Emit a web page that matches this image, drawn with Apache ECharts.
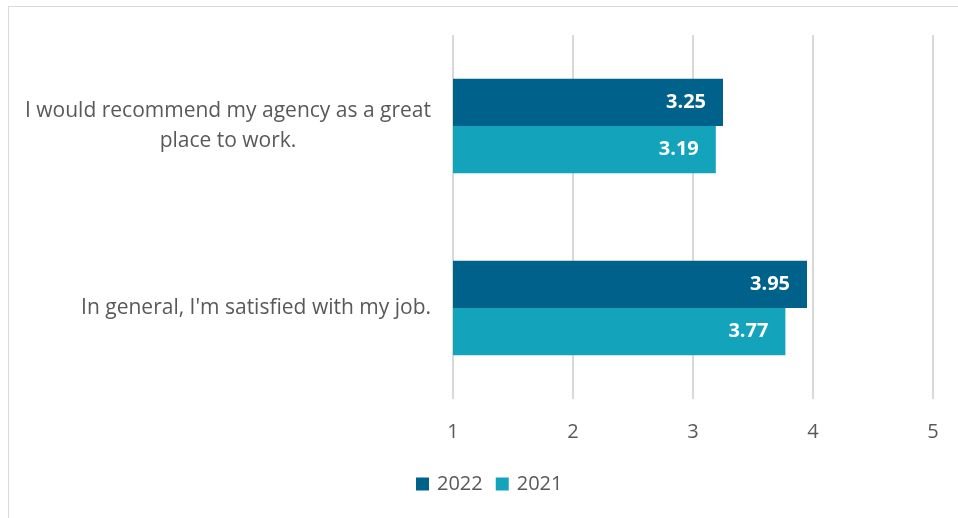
<!DOCTYPE html>
<html>
<head>
<meta charset="utf-8">
<script src="https://cdn.jsdelivr.net/npm/echarts@6/dist/echarts.min.js"></script>
<style>
  html, body { margin: 0; padding: 0; background: #ffffff; }
  #chart { width: 958px; height: 518px; position: relative; }
  #frame { position: absolute; left: 8px; top: 6px; width: 1000px; height: 600px;
           border: 1px solid #d9d9d9; box-sizing: border-box; pointer-events: none; }
</style>
</head>
<body>
<div id="chart"></div>
<div id="frame"></div>
<script>
// Survey statements, top to bottom
const categories = [
  'I would recommend my agency as a great\nplace to work.',
  "In general, I'm satisfied with my job."
];
const seriesNames = ['2022', '2021'];
const values2022 = [3.25, 3.95];
const values2021 = [3.19, 3.77];
const tickLabels = [1, 2, 3, 4, 5];

const colors = ['#00618a', '#13a3bb'];
const textColor = '#595959';
const fontFamily = 'Open Sans, Noto Sans, sans-serif';

const chart = echarts.init(document.getElementById('chart'), null, { renderer: 'canvas' });

const barLabel = {
  show: true,
  position: 'insideRight',
  distance: 17,
  color: '#ffffff',
  fontWeight: 'bold',
  fontSize: 20,
  fontFamily: fontFamily,
  formatter: p => p.value.toFixed(2)
};

chart.setOption({
  animation: false,
  grid: { left: 453, right: 25, top: 35, bottom: 119, containLabel: false },
  legend: {
    bottom: 19,
    left: 411,
    itemWidth: 13,
    itemHeight: 13,
    itemGap: 13,
    icon: 'rect',
    textStyle: { color: textColor, fontSize: 20, fontFamily: fontFamily, padding: [0, 0, 0, 3] },
    data: seriesNames
  },
  xAxis: {
    type: 'value',
    min: tickLabels[0],
    max: tickLabels[tickLabels.length - 1],
    interval: 1,
    axisLine: { show: false },
    axisTick: { show: false },
    splitLine: { show: true, lineStyle: { color: '#d9d9d9', width: 2 } },
    axisLabel: { color: textColor, fontSize: 20, fontFamily: fontFamily, margin: 23 }
  },
  yAxis: {
    type: 'category',
    inverse: true,
    data: categories,
    axisLine: { show: false },
    axisTick: { show: false },
    axisLabel: {
      margin: 22,
      formatter: v => v.split('\n').map(line => '{c|' + line + '}').join('\n'),
      rich: {
        c: { align: 'center', color: textColor, fontSize: 21, fontFamily: fontFamily, lineHeight: 30 }
      }
    }
  },
  series: [
    {
      name: seriesNames[0], type: 'bar', data: values2022,
      itemStyle: { color: colors[0] },
      barGap: '0%', barCategoryGap: '48%',
      label: barLabel
    },
    {
      name: seriesNames[1], type: 'bar', data: values2021,
      itemStyle: { color: colors[1] },
      barGap: '0%', barCategoryGap: '48%',
      label: barLabel
    }
  ]
});
</script>
</body>
</html>
